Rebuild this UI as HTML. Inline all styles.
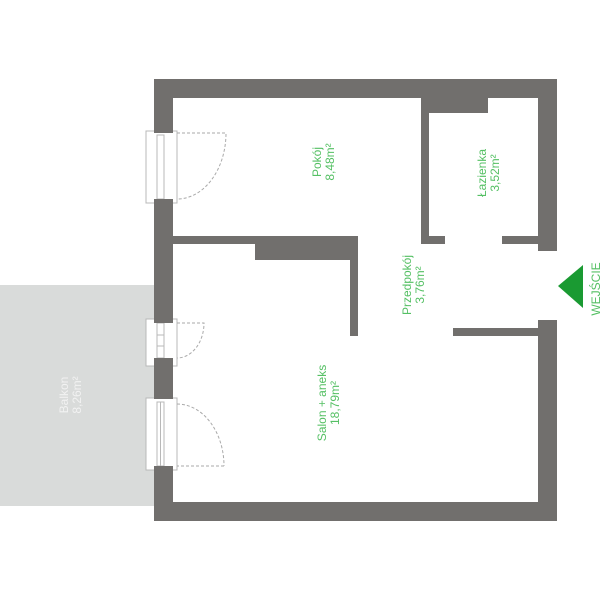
<!DOCTYPE html>
<html><head><meta charset="utf-8"><style>
html,body{margin:0;padding:0;background:#fff;}
svg{display:block;}
text{font-family:"Liberation Sans",sans-serif;}
</style></head><body>
<svg width="600" height="600" viewBox="0 0 600 600" xmlns="http://www.w3.org/2000/svg">
<rect x="0" y="285" width="154" height="221" fill="#d9dbda"/>
<g fill="#716f6d">
<rect x="154" y="79" width="403" height="19"/>
<rect x="538" y="79" width="19" height="172"/>
<rect x="538" y="320" width="19" height="201"/>
<rect x="154" y="502" width="403" height="19"/>
<rect x="154" y="79" width="19" height="56"/>
<rect x="154" y="199" width="19" height="124"/>
<rect x="154" y="358" width="19" height="41"/>
<rect x="154" y="466" width="19" height="55"/>
<rect x="173" y="236" width="185" height="8"/>
<rect x="255" y="236" width="103" height="24"/>
<rect x="350" y="236" width="8" height="100"/>
<rect x="421" y="98" width="8" height="146"/>
<rect x="421" y="98" width="67" height="15"/>
<rect x="421" y="236" width="24" height="8"/>
<rect x="502" y="236" width="36" height="8"/>
<rect x="453" y="328" width="85" height="8"/>
</g>
<g fill="none" stroke="#b8b8b8" stroke-width="1">
<rect x="146" y="131" width="31" height="72" fill="#fff"/>
<rect x="157" y="135" width="7" height="64"/>
<rect x="146" y="319" width="31" height="47" fill="#fff"/>
<rect x="157" y="323" width="7" height="35"/>
<line x1="157" y1="335" x2="164" y2="335"/><line x1="157" y1="346" x2="164" y2="346"/>
<rect x="146" y="398" width="31" height="72" fill="#fff"/>
<rect x="157" y="402" width="7" height="64"/>
<line x1="160.5" y1="402" x2="160.5" y2="466"/>
</g>
<g fill="#716f6d">
<rect x="154" y="79" width="19" height="54"/>
<rect x="154" y="199" width="19" height="124"/>
<rect x="154" y="358" width="19" height="41"/>
<rect x="154" y="466" width="19" height="55"/>
</g>
<g fill="none" stroke="#aaa" stroke-width="1" stroke-dasharray="3,2">
<path d="M177 133 H226 A49 66 0 0 1 177 199"/>
<path d="M177 323 H204 A27 35 0 0 1 177 358"/>
<path d="M224 466 H177 M177 404 A47 62 0 0 1 224 466"/>
</g>
<polygon points="558,286 583,265 583,308" fill="#1a9a32"/>
<g fill="#55c064" font-size="12" text-anchor="middle">
<g transform="translate(322,162) rotate(-90)"><text y="-1">Pokój</text><text y="12">8,48m²</text></g>
<g transform="translate(487,173) rotate(-90)"><text y="-1">Łazienka</text><text y="12">3,52m²</text></g>
<g transform="translate(412,285) rotate(-90)"><text y="-1">Przedpokój</text><text y="12">3,76m²</text></g>
<g transform="translate(327,403) rotate(-90)"><text y="-1">Salon + aneks</text><text y="12">18,79m²</text></g>
<g transform="translate(600,289) rotate(-90)"><text y="0">WEJŚCIE</text></g>
</g>
<g fill="#f2f2f2" font-size="12" text-anchor="middle">
<g transform="translate(69,395) rotate(-90)"><text y="-1">Balkon</text><text y="12">8,26m²</text></g>
</g>
</svg>
</body></html>
